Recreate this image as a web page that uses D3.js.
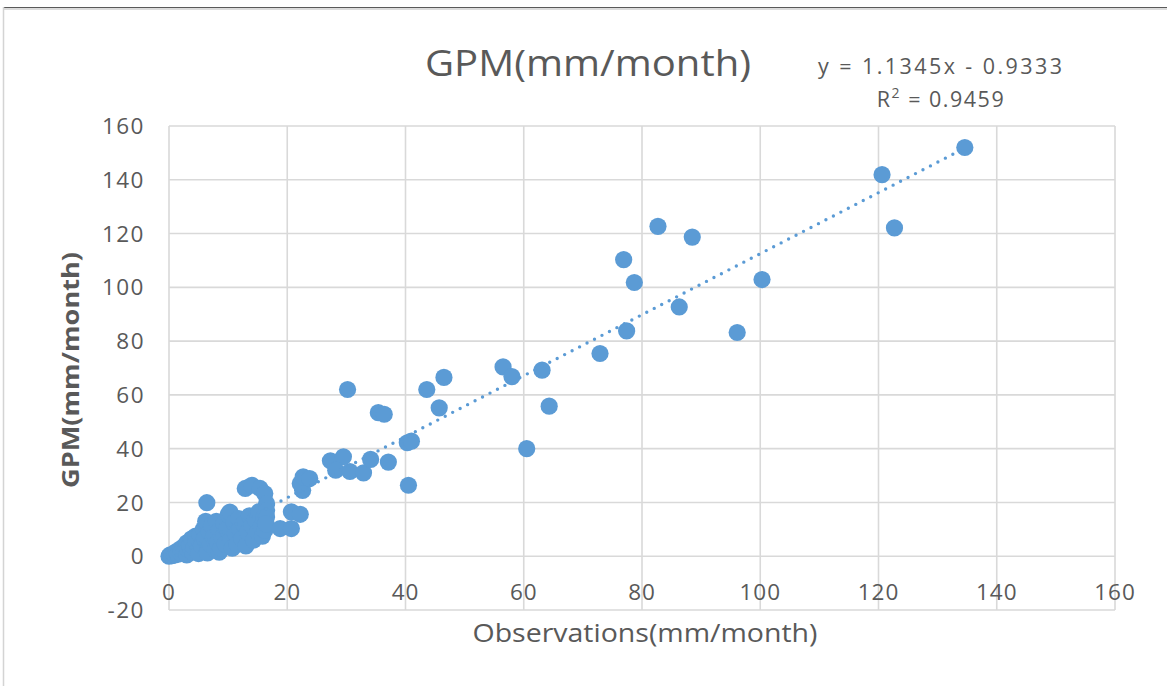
<!DOCTYPE html>
<html><head><meta charset="utf-8">
<script src="https://cdn.jsdelivr.net/npm/d3@7"></script>
<style>html,body{margin:0;padding:0;background:#fff;}svg{display:block;}</style>
</head><body>
<svg id="chart" width="1167" height="686"></svg>
<script>
// ---- data ----
const obsX = [
 0,0.2,0.5,0.8,1,1.3,1.5,2,2,2.5,2.7,3,3,3.2,3.5,3.8,4,4.2,4.5,4.6,5,5,5.2,5.5,5.8,6,6.2,6.4,6.5,6.5,6.8,7,7.2,7.5,7.8,8,8.2,8.5,8.5,8.8,9,9.3,9.5,9.8,10,10.3,10.4,10.7,11,11.2,11.5,11.8,12,12.3,12.6,12.9,13,13.3,13.6,14,14,14.3,14.6,15,15.2,15.4,15.6,15.8,16,16.2,16.5,16.5,16.5,16.2,16.4,
 18.8,20.7,20.7,22.2,22.6,22.2,22.7,23.8,
 27.3,29.5,28.2,30.6,32.9,34.1,37.1,
 30.2,35.4,36.4,40.3,41,40.5,43.6,45.7,46.5,
 56.5,58.0,60.5,63.1,64.3,72.9,76.9,77.4,78.7,82.7,86.3,88.5,96.1,100.3,120.6,122.7,134.6
];
const gpmY = [
 0,0.5,0.2,1,0.5,1.8,0.8,2.8,1.2,3.5,1.8,5,0.5,2.5,4,6.5,1.5,3.2,7.5,5,2.5,1,8,4,10,6.5,13,19.9,2,1.2,9,4.5,11.5,7,2.5,13,5,9.5,1.5,3,7,12,4.5,10,15.5,16.4,6,3,12.5,8.5,4.5,14,10,6.5,12,25.2,3.8,9,15,26.4,11.5,6,13.5,9,16.5,25.2,11,7.5,14,23.3,19.6,17,14.6,9.7,12,
 10.3,10.3,16.5,15.6,24.5,27.0,29.5,28.9,
 35.5,37,32,31.5,31,36,35,
 62.0,53.4,52.8,42.2,42.8,26.4,62.0,55.2,66.5,
 70.4,66.8,40.0,69.2,55.8,75.4,110.3,83.8,101.8,122.7,92.7,118.7,83.2,102.9,141.9,122.1,152.0
];
const tickValsX = [0,20,40,60,80,100,120,140,160];
const tickValsY = [-20,0,20,40,60,80,100,120,140,160];
const trendSlope = 1.1345, trendIntercept = -0.9333;
const titleText = "GPM(mm/month)";
const xTitle = "Observations(mm/month)";
const yTitle = "GPM(mm/month)";
const eqText = "y = 1.1345x - 0.9333";

// ---- layout ----
const svg = d3.select("#chart");
const FONT = "'Open Sans', 'Noto Sans', sans-serif";
const L = 169, R = 1115, T = 126, B = 610;
const x = d3.scaleLinear().domain([0,160]).range([L,R]);
const y = d3.scaleLinear().domain([-20,160]).range([B,T]);

// frame of screenshot
svg.append("line").attr("x1",3).attr("x2",1167).attr("y1",7.5).attr("y2",7.5).attr("stroke","#5a5a5a").attr("stroke-width",1.2);
svg.append("line").attr("x1",3).attr("x2",1167).attr("y1",9).attr("y2",9).attr("stroke","#dcdcdc").attr("stroke-width",2);
svg.append("line").attr("x1",3.5).attr("x2",3.5).attr("y1",7).attr("y2",686).attr("stroke","#d4d4d4").attr("stroke-width",1.5);

// gridlines
const grid = svg.append("g");
grid.selectAll(".gx").data(tickValsX).join("line")
  .attr("x1",d=>x(d)).attr("x2",d=>x(d)).attr("y1",T).attr("y2",B)
  .attr("stroke","#d9d9d9").attr("stroke-width",1.6);
grid.selectAll(".gy").data(tickValsY).join("line")
  .attr("x1",L).attr("x2",R).attr("y1",d=>y(d)).attr("y2",d=>y(d))
  .attr("stroke","#d9d9d9").attr("stroke-width",1.6);

// tick labels
svg.append("g").selectAll("text").data(tickValsY).join("text")
  .attr("x",145).attr("y",d=>y(d)).attr("dy","0.36em").attr("text-anchor","end")
  .attr("font-family",FONT).attr("font-size",22.5).attr("letter-spacing",1.5).attr("fill","#595959").text(d=>d);
svg.append("g").selectAll("text").data(tickValsX).join("text")
  .attr("x",d=>x(d)).attr("y",600).attr("text-anchor","middle")
  .attr("font-family",FONT).attr("font-size",22.5).attr("letter-spacing",1).attr("fill","#595959").text(d=>d);

// points
svg.append("g").selectAll("circle").data(obsX.map((v,i)=>[v,gpmY[i]])).join("circle")
  .attr("cx",d=>x(d[0])).attr("cy",d=>y(d[1])).attr("r",8.6).attr("fill","#5b9bd5");

// trendline
const xr = d3.extent(obsX);
svg.append("line")
  .attr("x1",x(xr[0])).attr("y1",y(trendSlope*xr[0]+trendIntercept))
  .attr("x2",x(xr[1])).attr("y2",y(trendSlope*xr[1]+trendIntercept))
  .attr("stroke","#5b9bd5").attr("stroke-width",3.4).attr("stroke-linecap","round")
  .attr("stroke-dasharray","0 8.4");

// titles
svg.append("text").attr("x",588).attr("y",76).attr("text-anchor","middle")
  .attr("font-family",FONT).attr("font-size",36).attr("fill","#595959")
  .attr("textLength",326).attr("lengthAdjust","spacingAndGlyphs").text(titleText);
svg.append("text").attr("x",940).attr("y",74).attr("text-anchor","middle")
  .attr("font-family",FONT).attr("font-size",21.5).attr("fill","#595959")
  .attr("textLength",244).attr("lengthAdjust","spacing").text(eqText);
const r2 = svg.append("text").attr("x",941).attr("y",107).attr("text-anchor","middle")
  .attr("font-family",FONT).attr("font-size",21.5).attr("letter-spacing",1.5).attr("fill","#595959");
r2.append("tspan").text("R");
r2.append("tspan").attr("font-size",14).attr("dy",-9).text("2");
r2.append("tspan").attr("dy",9).text(" = 0.9459");
svg.append("text").attr("x",645).attr("y",642).attr("text-anchor","middle")
  .attr("font-family",FONT).attr("font-size",25).attr("fill","#595959")
  .attr("textLength",345).attr("lengthAdjust","spacingAndGlyphs").text(xTitle);
svg.append("text").attr("transform","translate(79,370) rotate(-90)").attr("text-anchor","middle")
  .attr("font-family",FONT).attr("font-size",24).attr("font-weight","bold").attr("fill","#595959")
  .attr("textLength",236).attr("lengthAdjust","spacingAndGlyphs").text(yTitle);
</script>
</body></html>
